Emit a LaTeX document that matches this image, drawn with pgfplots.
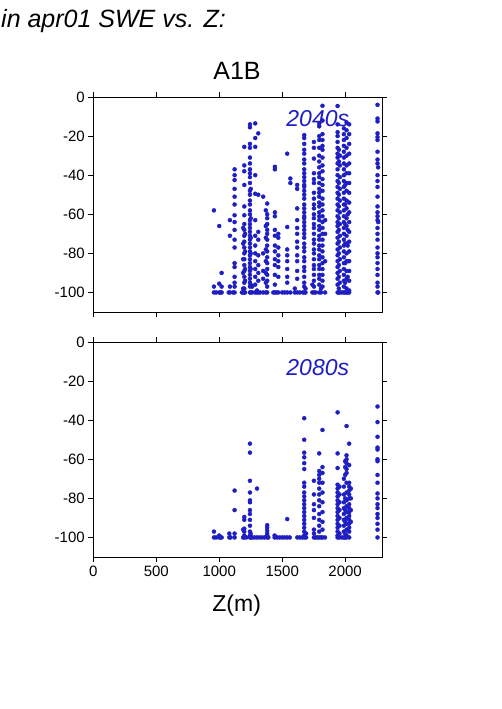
\documentclass[border=0pt]{standalone}
\usepackage{fontspec}
\setmainfont{Liberation Sans}
\usepackage{pgfplots}
\pgfplotsset{compat=1.18}
\definecolor{ptblue}{RGB}{30,30,195}
\pgfplotsset{panel/.style={
  scale only axis, width=289pt, height=215pt,
  xmin=0, xmax=2295, ymin=-110, ymax=0,
  xtick={0,500,1000,1500,2000},
  ytick={0,-20,-40,-60,-80,-100},
  tick align=outside, tick pos=both, major tick length=5pt,
  every tick/.style={black, line width=0.6pt},
  axis line style={black, line width=0.8pt},
  tick label style={font=\fontsize{15}{17}\selectfont},
  /pgf/number format/assume math mode=true,
  /pgf/number format/1000 sep={},
}}
\begin{document}
\begin{tikzpicture}[x=1pt,y=1pt]
\path[use as bounding box] (0,0) rectangle (501,-709);
\node[anchor=base west, inner sep=0, font=\fontsize{25}{29}\selectfont\itshape] at (1,-27.7) {in apr01 SWE vs. Z:};
\node[inner sep=0, font=\fontsize{25}{30}\selectfont] at (237,-71.3) {A1B};
% ---------- top panel (2040s)
\begin{axis}[panel, at={(93.3pt,-312pt)}, anchor=south west, xticklabels={}]
\addplot[only marks, mark=*, mark size=2.0pt, color=ptblue] coordinates {
(958,-58) (958,-97) (958,-100) (975,-100)
(1000,-66) (1000,-95.5) (1000,-100) (1010,-100)
(1019,-90) (1019,-97) (1019,-100) (1075,-100)
(1085,-63) (1085,-71) (1085,-97) (1085,-100) (1110,-100)
(1122,-37) (1122,-40) (1122,-42.5) (1122,-47) (1122,-51) (1122,-55) (1122,-60.5) (1122,-64) (1122,-68) (1122,-73) (1122,-77) (1122,-85) (1122,-87) (1122,-92) (1122,-95) (1122,-97) (1122,-100)
(1180,-100) (1190,-67) (1190,-75) (1190,-83) (1190,-90) (1190,-98) (1190,-100)
(1199,-25.5) (1199,-35) (1199,-38) (1199,-45) (1199,-56) (1199,-60.5) (1199,-65) (1199,-68) (1199,-71) (1199,-74) (1199,-77) (1199,-80) (1199,-83) (1199,-86) (1199,-89) (1199,-92) (1199,-95) (1199,-98) (1199,-100)
(1205,-100) (1205,-70) (1205,-79) (1205,-88) (1205,-94)
(1244,-14) (1244,-15.5) (1244,-24) (1244,-26) (1244,-31) (1244,-34) (1244,-37) (1244,-39) (1244,-41) (1244,-44) (1244,-48) (1244,-50) (1244,-53) (1244,-55) (1244,-58) (1244,-60) (1244,-63) (1244,-65) (1244,-67) (1244,-69) (1244,-71) (1244,-73) (1244,-75) (1244,-77) (1244,-79) (1244,-81) (1244,-83) (1244,-85) (1244,-87) (1244,-89) (1244,-91) (1244,-93) (1244,-95) (1244,-97) (1244,-100)
(1250,-47) (1250,-62) (1250,-72) (1250,-80) (1250,-88) (1250,-96) (1250,-100) (1262,-100) (1262,-97)
(1286,-13.5) (1286,-21) (1286,-25.5) (1286,-40) (1286,-49.5) (1286,-63) (1286,-71) (1286,-76) (1286,-80) (1286,-84) (1286,-88) (1286,-92) (1286,-96) (1286,-100)
(1300,-100) (1300,-99)
(1310,-18.6) (1310,-50) (1310,-69) (1310,-73) (1310,-81) (1310,-86) (1310,-90) (1310,-94) (1310,-100) (1325,-100)
(1349,-51) (1349,-80) (1349,-89) (1349,-93) (1349,-100)
(1370,-58) (1370,-66) (1370,-72) (1370,-78) (1370,-84) (1370,-90) (1370,-95) (1370,-100)
(1381,-54.5) (1381,-60) (1381,-62) (1381,-65) (1381,-68) (1381,-70) (1381,-73) (1381,-76) (1381,-79) (1381,-82) (1381,-85) (1381,-88) (1381,-91) (1381,-94) (1381,-97) (1381,-100)
(1430,-100)
(1442,-35.7) (1442,-37) (1442,-59) (1442,-61) (1442,-68) (1442,-71) (1442,-76) (1442,-79) (1442,-83) (1442,-86) (1442,-91) (1442,-96) (1442,-100) (1455,-100)
(1469,-70) (1469,-72) (1469,-77) (1469,-81) (1469,-84) (1469,-87) (1469,-92) (1469,-100)
(1500,-100) (1520,-100)
(1540,-29) (1540,-66.5) (1540,-78) (1540,-81) (1540,-84) (1540,-88) (1540,-92) (1540,-95) (1540,-100)
(1565,-41.7) (1565,-44) (1565,-100) (1600,-100) (1600,-98)
(1619,-45) (1619,-47) (1619,-57) (1619,-63) (1619,-67) (1619,-70) (1619,-74) (1619,-77) (1619,-81) (1619,-84) (1619,-89) (1619,-93) (1619,-100)
(1640,-100) (1665,-100)
(1675,-19.5) (1675,-21) (1675,-24) (1675,-27) (1675,-29) (1675,-32) (1675,-34) (1675,-37) (1675,-39) (1675,-41) (1675,-43) (1675,-45) (1675,-46) (1675,-48) (1675,-50) (1675,-52) (1675,-55) (1675,-57) (1675,-59) (1675,-61) (1675,-62) (1675,-64) (1675,-66) (1675,-68) (1675,-70) (1675,-72) (1675,-75) (1675,-77) (1675,-79) (1675,-82) (1675,-84) (1675,-87) (1675,-89) (1675,-92) (1675,-95) (1675,-97) (1675,-100)
(1685,-100) (1685,-98) (1740,-100) (1740,-96)
(1752,-23) (1752,-26) (1752,-31.5) (1752,-39) (1752,-42) (1752,-44) (1752,-49) (1752,-52) (1752,-55) (1752,-57) (1752,-60) (1752,-62) (1752,-65) (1752,-67) (1752,-70) (1752,-73) (1752,-75) (1752,-78) (1752,-80) (1752,-83) (1752,-86) (1752,-88) (1752,-91) (1752,-94) (1752,-97) (1752,-100)
(1765,-100)
(1794,-13.5) (1794,-15) (1794,-20) (1794,-22) (1794,-26) (1794,-30) (1794,-33) (1794,-36) (1794,-39) (1794,-41) (1794,-44) (1794,-47) (1794,-49) (1794,-51) (1794,-54) (1794,-56) (1794,-59) (1794,-61) (1794,-63) (1794,-66) (1794,-68) (1794,-71) (1794,-73) (1794,-76) (1794,-78) (1794,-81) (1794,-83) (1794,-86) (1794,-88) (1794,-91) (1794,-93) (1794,-96) (1794,-100)
(1808,-100) (1808,-98)
(1820,-4.5) (1820,-12) (1820,-19) (1820,-22) (1820,-25) (1820,-27) (1820,-31) (1820,-35) (1820,-38) (1820,-42) (1820,-45) (1820,-48) (1820,-52) (1820,-55) (1820,-58) (1820,-61) (1820,-64) (1820,-67) (1820,-70) (1820,-73) (1820,-76) (1820,-79) (1820,-82) (1820,-85) (1820,-88) (1820,-91) (1820,-94) (1820,-97)
(1841,-63) (1841,-70) (1841,-84) (1841,-100)
(1940,-4.6) (1940,-14) (1940,-18) (1940,-20) (1940,-23) (1940,-26) (1940,-29) (1940,-31) (1940,-34) (1940,-37) (1940,-40) (1940,-43) (1940,-46) (1940,-49) (1940,-52) (1940,-55) (1940,-58) (1940,-61) (1940,-64) (1940,-66) (1940,-69) (1940,-72) (1940,-75) (1940,-78) (1940,-81) (1940,-84) (1940,-87) (1940,-90) (1940,-93) (1940,-96) (1940,-100)
(1950,-27) (1950,-33) (1950,-44) (1950,-50) (1950,-56) (1950,-62) (1950,-68) (1950,-74) (1950,-80) (1950,-86) (1950,-92) (1950,-98) (1950,-100)
(1958,-30) (1958,-35) (1958,-41) (1958,-47) (1958,-53) (1958,-59) (1958,-65) (1958,-71) (1958,-77) (1958,-83) (1958,-89) (1958,-95) (1958,-100)
(1975,-100)
(1990,-16) (1990,-19) (1990,-22) (1990,-25) (1990,-28) (1990,-31) (1990,-34) (1990,-37) (1990,-40) (1990,-43) (1990,-46) (1990,-49) (1990,-52) (1990,-55) (1990,-58) (1990,-61) (1990,-64) (1990,-67) (1990,-70) (1990,-73) (1990,-76) (1990,-79) (1990,-82) (1990,-85) (1990,-88) (1990,-91) (1990,-94) (1990,-97) (1990,-100)
(2000,-45) (2000,-55) (2000,-65) (2000,-75) (2000,-85) (2000,-95) (2000,-100)
(2011,-13) (2011,-17) (2011,-21) (2011,-26) (2011,-30) (2011,-35) (2011,-39) (2011,-44) (2011,-48) (2011,-53) (2011,-57) (2011,-62) (2011,-66) (2011,-71) (2011,-75) (2011,-80) (2011,-84) (2011,-89) (2011,-93) (2011,-98) (2011,-100)
(2020,-60) (2020,-68) (2020,-76) (2020,-84) (2020,-92) (2020,-100)
(2032,-14) (2032,-19) (2032,-24) (2032,-29) (2032,-34) (2032,-39) (2032,-44) (2032,-49) (2032,-54) (2032,-59) (2032,-64) (2032,-69) (2032,-74) (2032,-79) (2032,-84) (2032,-89) (2032,-94) (2032,-99) (2032,-100)
(2257,-4) (2257,-11) (2257,-12.5) (2257,-18.6) (2257,-20.5) (2257,-22) (2257,-28) (2257,-32) (2257,-34) (2257,-40) (2257,-43) (2257,-46) (2257,-51) (2257,-56) (2257,-59) (2257,-61) (2257,-63) (2257,-67) (2257,-70) (2257,-73) (2257,-77) (2257,-80) (2257,-82) (2257,-85) (2257,-88) (2257,-91) (2257,-95) (2257,-97) (2257,-100)
(2262,-100) (2262,-64) (2262,-36)
};
\end{axis}
% ---------- bottom panel (2080s)
\begin{axis}[panel, at={(93.3pt,-557pt)}, anchor=south west]
\addplot[only marks, mark=*, mark size=2.0pt, color=ptblue] coordinates {
(958,-97) (958,-100) (975,-100) (1000,-100) (1000,-99) (1010,-100) (1019,-100)
(1080,-100) (1080,-98) (1090,-100)
(1122,-76) (1122,-86) (1122,-98) (1122,-100)
(1190,-100) (1190,-96)
(1199,-89.5) (1199,-91) (1199,-95.5) (1199,-97) (1199,-99) (1199,-100) (1215,-100)
(1244,-52) (1244,-56.6) (1244,-71) (1244,-77) (1244,-81) (1244,-82) (1244,-86) (1244,-88) (1244,-91) (1244,-94) (1244,-97) (1244,-99) (1244,-100)
(1250,-98) (1250,-100) (1262,-100) (1280,-100) (1300,-75) (1300,-100) (1320,-100) (1340,-100) (1360,-100)
(1381,-93.7) (1381,-95) (1381,-96.5) (1381,-98) (1381,-99) (1381,-100) (1390,-100)
(1440,-100) (1440,-99) (1460,-100) (1480,-100) (1500,-100) (1520,-100)
(1540,-90.6) (1540,-100) (1560,-100) (1620,-100) (1640,-100) (1660,-100)
(1675,-39) (1675,-50) (1675,-56.6) (1675,-59) (1675,-62) (1675,-65) (1675,-72) (1675,-74) (1675,-77) (1675,-79) (1675,-81) (1675,-83) (1675,-85) (1675,-87) (1675,-89) (1675,-91) (1675,-93) (1675,-95) (1675,-97) (1675,-99) (1675,-100)
(1690,-100) (1690,-98)
(1752,-71) (1752,-78) (1752,-83) (1752,-86) (1752,-90) (1752,-96) (1752,-98) (1752,-100)
(1765,-100) (1780,-100)
(1794,-57) (1794,-66) (1794,-68) (1794,-70) (1794,-72) (1794,-75) (1794,-78) (1794,-81) (1794,-84) (1794,-88) (1794,-91) (1794,-94) (1794,-97) (1794,-100)
(1808,-100)
(1820,-45) (1820,-64) (1820,-67) (1820,-72) (1820,-77) (1820,-82) (1820,-87) (1820,-92) (1820,-96) (1820,-100)
(1840,-100)
(1940,-36) (1940,-57) (1940,-64.5) (1940,-73) (1940,-75) (1940,-77) (1940,-79) (1940,-81) (1940,-83) (1940,-85) (1940,-87) (1940,-89) (1940,-91) (1940,-93) (1940,-95) (1940,-97) (1940,-99) (1940,-100)
(1955,-74) (1955,-78) (1955,-82) (1955,-86) (1955,-90) (1955,-94) (1955,-98) (1955,-100)
(1975,-100)
(1990,-70) (1990,-74) (1990,-78) (1990,-82) (1990,-85) (1990,-88) (1990,-91) (1990,-94) (1990,-97) (1990,-100)
(2000,-61) (2000,-64) (2000,-68) (2000,-80) (2000,-86) (2000,-92) (2000,-98) (2000,-100)
(2011,-43) (2011,-58) (2011,-60) (2011,-62) (2011,-65) (2011,-67) (2011,-72) (2011,-77) (2011,-81) (2011,-84) (2011,-87) (2011,-90) (2011,-93) (2011,-96) (2011,-99) (2011,-100)
(2032,-52) (2032,-63) (2032,-72) (2032,-74) (2032,-76) (2032,-78) (2032,-80) (2032,-83) (2032,-85) (2032,-87) (2032,-89) (2032,-91) (2032,-93) (2032,-95) (2032,-97) (2032,-100)
(2045,-75) (2045,-80) (2045,-86) (2045,-92)
(2257,-33) (2257,-41) (2257,-48.5) (2257,-54) (2257,-55) (2257,-60) (2257,-61) (2257,-68) (2257,-72) (2257,-77.5) (2257,-80) (2257,-83) (2257,-85) (2257,-88) (2257,-90) (2257,-93) (2257,-96) (2257,-100)
};
\end{axis}
\node[anchor=base east, inner sep=0, text=ptblue, font=\fontsize{23}{27}\selectfont\itshape] at (349.3,-126.7) {2040s};
\node[anchor=base east, inner sep=0, text=ptblue, font=\fontsize{23}{27}\selectfont\itshape] at (349.3,-375.7) {2080s};
\node[anchor=base, inner sep=0, font=\fontsize{23}{27}\selectfont] at (236.7,-611) {Z(m)};
\end{tikzpicture}
\end{document}
